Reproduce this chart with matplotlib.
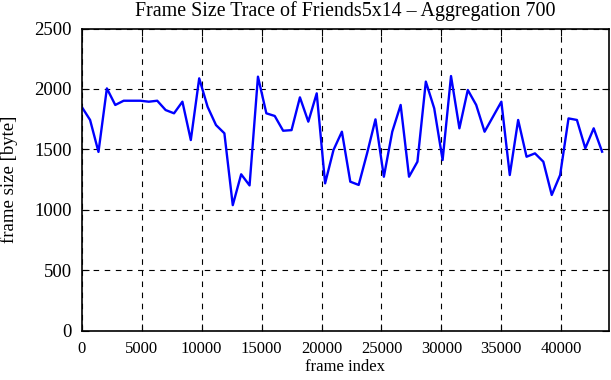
import matplotlib
matplotlib.use("Agg")
import matplotlib.pyplot as plt
import numpy as np

step = 700
frame_size = [1853, 1744, 1480, 2005, 1868, 1903, 1903, 1903, 1895, 1903,
              1826, 1799, 1895, 1578, 2088, 1853, 1702, 1634, 1040, 1295,
              1203, 2102, 1799, 1777, 1655, 1660, 1931, 1730, 1964, 1220,
              1496, 1647, 1234, 1207, 1468, 1749, 1275, 1647, 1868, 1275,
              1399, 2061, 1840, 1413, 2107, 1675, 1992, 1868, 1647, 1771,
              1895, 1289, 1744, 1440, 1468, 1399, 1124, 1289, 1757, 1744,
              1510, 1675, 1482]
frame_index = [i * step for i in range(len(frame_size))]

xticks = [0, 5000, 10000, 15000, 20000, 25000, 30000, 35000, 40000]
yticks = [0, 500, 1000, 1500, 2000, 2500]

plt.rcParams['font.family'] = ['Liberation Serif', 'DejaVu Serif']
plt.rcParams['font.size'] = 12

fig = plt.figure(figsize=(6.11, 3.8), dpi=100)
ax = fig.add_axes([0.1337, 0.129, 0.9972 - 0.1337, 0.925 - 0.129])
ax.plot(frame_index, frame_size, color='#0000ff', linewidth=1.7)
ax.set_xlim(0, 44000)
ax.set_ylim(0, 2500)
ax.set_xticks(xticks)
ax.set_yticks(yticks)
ax.grid(True, color='black', linestyle=(0, (5, 5)), linewidth=0.8)
ax.tick_params(direction='in', top=True, right=True, length=5, width=0.8, pad=7)
ax.tick_params(axis='y', labelsize=13.5)
for s in ax.spines.values():
    s.set_linewidth(1.2)
ax.set_xlabel('frame index', labelpad=2)
ax.set_ylabel('frame size [byte]', labelpad=12, fontsize=13.5)
ax.set_title('Frame Size Trace of Friends5x14 \u2013 Aggregation 700', pad=9)
fig.savefig('out.png', dpi=100)
